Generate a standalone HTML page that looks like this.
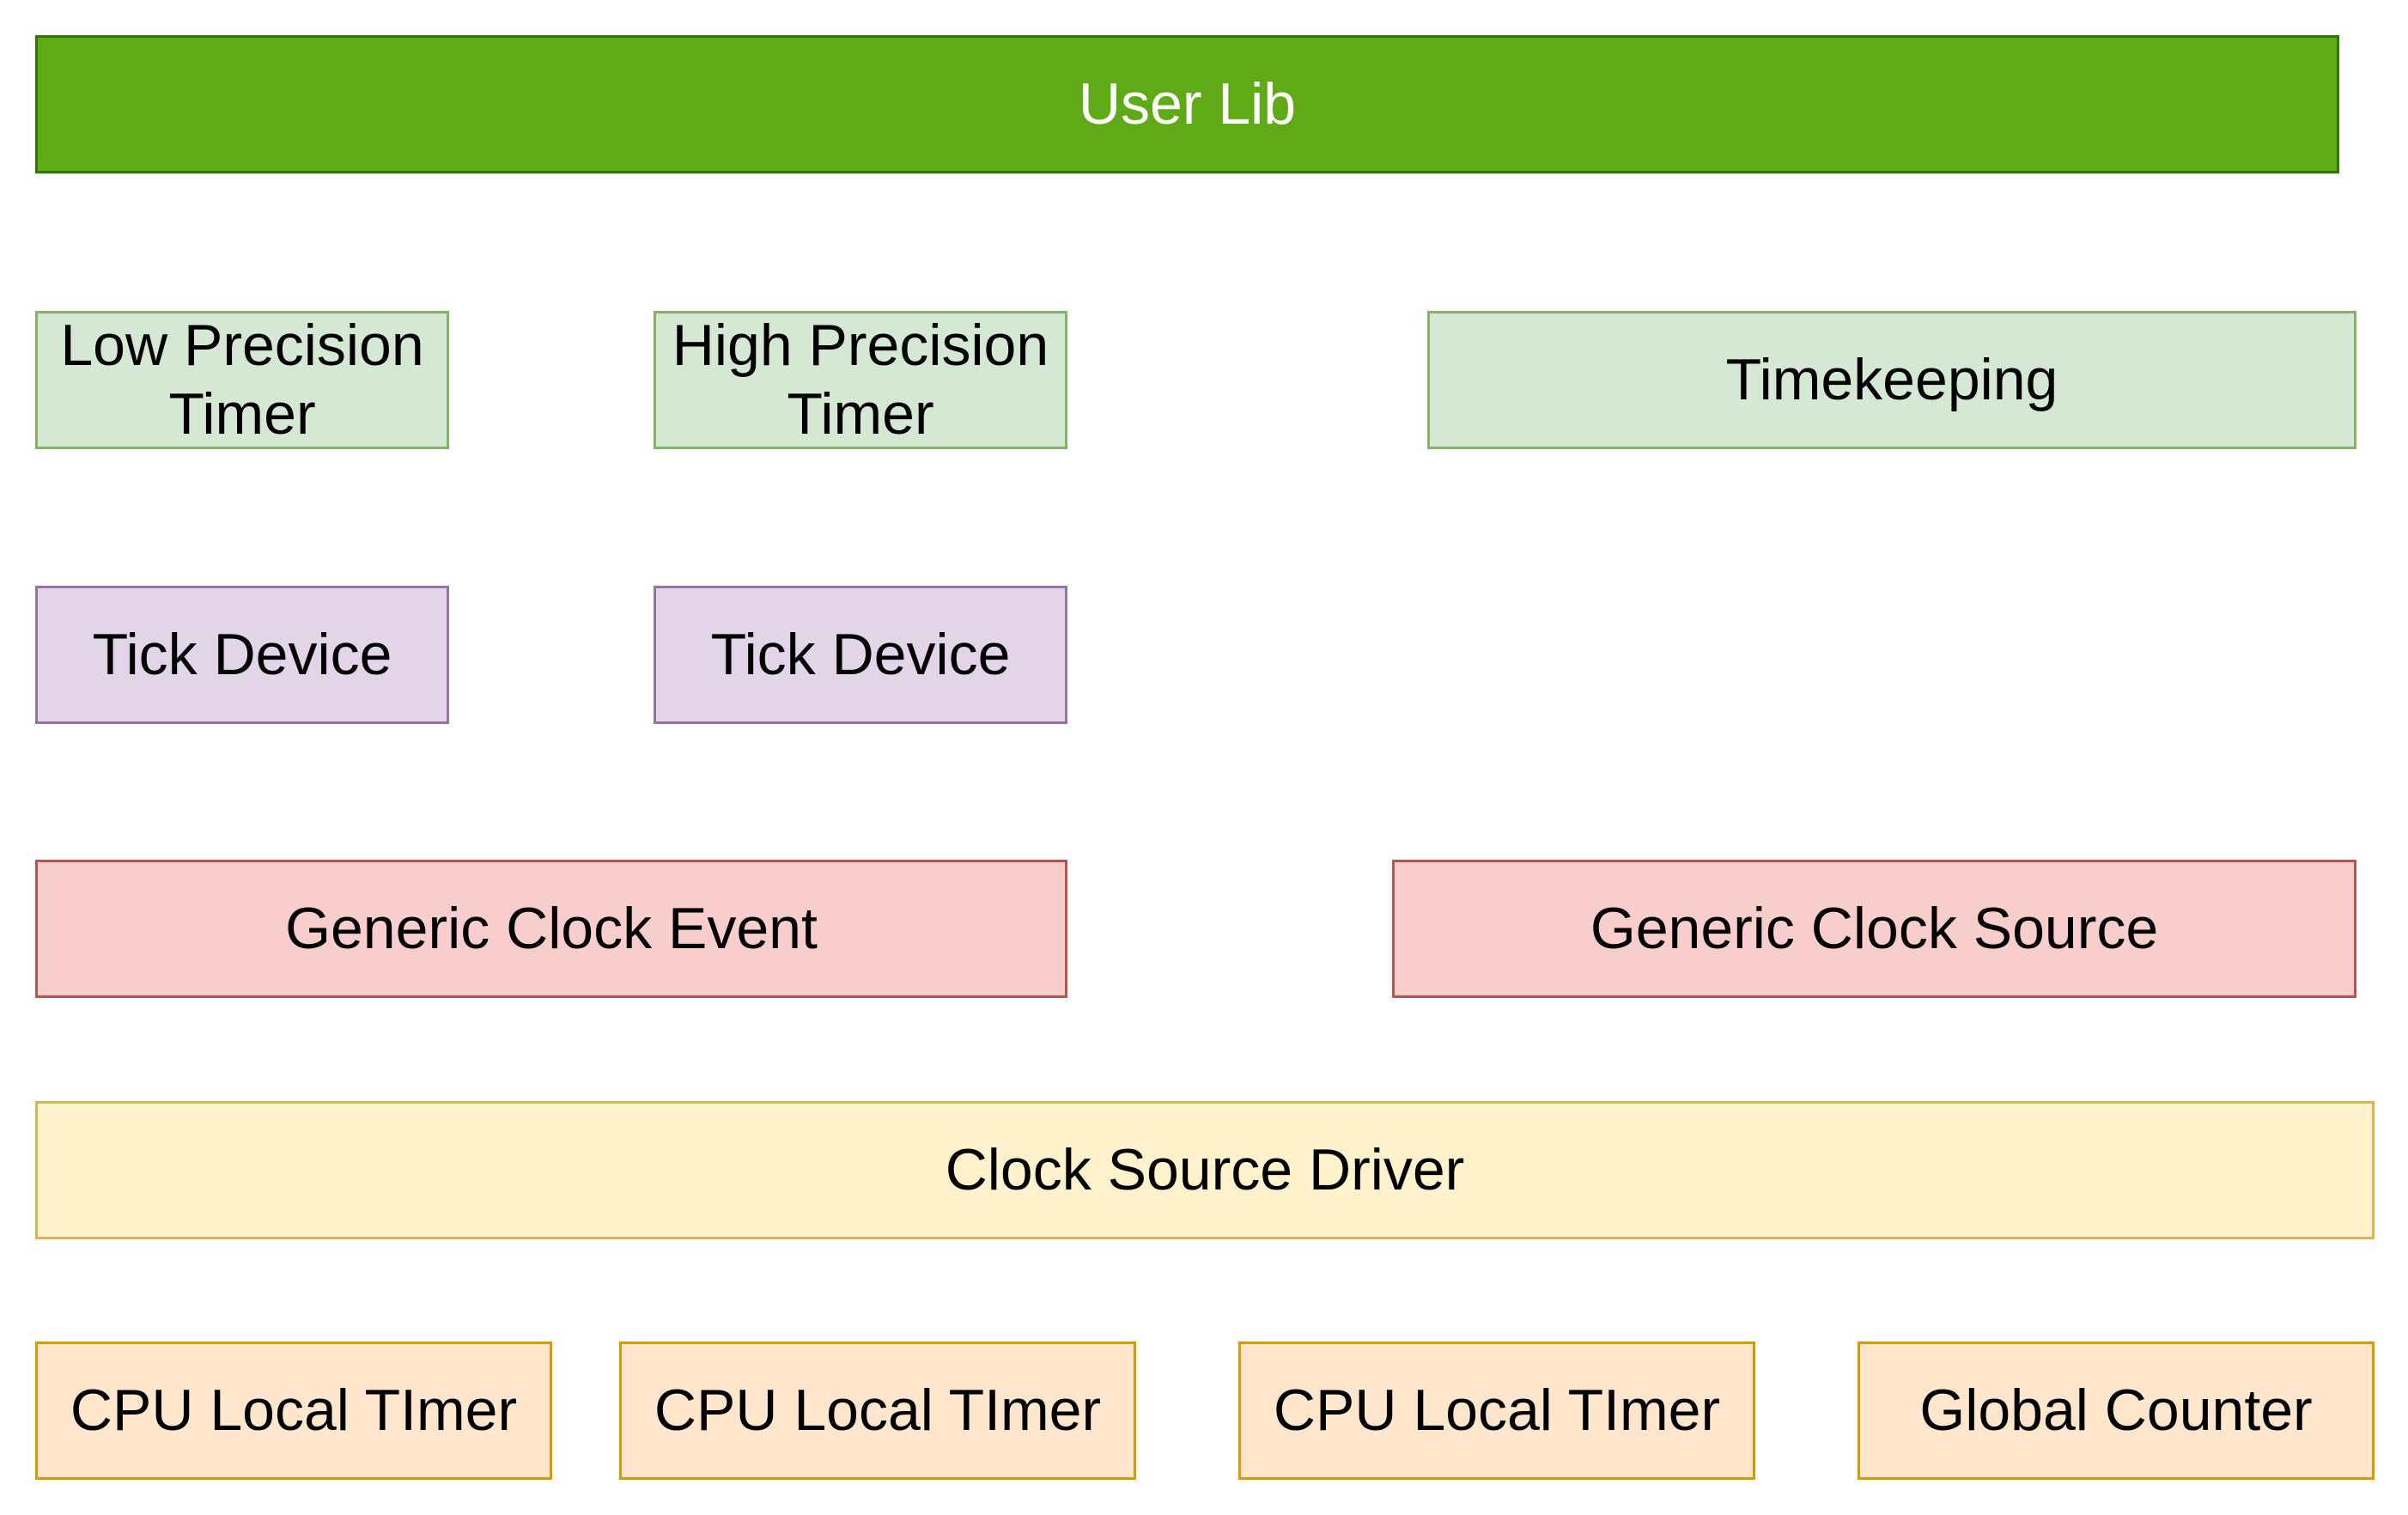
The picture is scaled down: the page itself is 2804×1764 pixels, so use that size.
<!DOCTYPE html>
<html><head><meta charset="utf-8"><style>
html,body{margin:0;padding:0;background:#fff;}
body{width:2804px;height:1764px;position:relative;overflow:hidden;font-family:"Liberation Sans",Arial,sans-serif;}
.b{position:absolute;box-sizing:border-box;border:3px solid;display:flex;align-items:center;justify-content:center;text-align:center;font-size:68px;line-height:1.17;color:#000;}
.g{background:#d5e8d4;border-color:#82b366;}
.p{background:#e1d5e7;border-color:#9673a6;}
.r{background:#f8cecc;border-color:#b85450;}
.y{background:#fff2cc;border-color:#d6b656;}
.o{background:#ffe6cc;border-color:#d79b00;}
</style></head><body>
<div class="b" style="left:41px;top:41px;width:2683px;height:161px;background:#60a917;border-color:#2d7600;color:#fff;">User Lib</div>
<div class="b g" style="left:41px;top:362px;width:482px;height:161px;">Low Precision<br>Timer</div>
<div class="b g" style="left:761px;top:362px;width:482px;height:161px;">High Precision<br>Timer</div>
<div class="b g" style="left:1662px;top:362px;width:1082px;height:161px;">Timekeeping</div>
<div class="b p" style="left:41px;top:682px;width:482px;height:161px;">Tick Device</div>
<div class="b p" style="left:761px;top:682px;width:482px;height:161px;">Tick Device</div>
<div class="b r" style="left:41px;top:1001px;width:1202px;height:161px;">Generic Clock Event</div>
<div class="b r" style="left:1621px;top:1001px;width:1123px;height:161px;">Generic Clock Source</div>
<div class="b y" style="left:41px;top:1282px;width:2724px;height:161px;">Clock Source Driver</div>
<div class="b o" style="left:41px;top:1562px;width:602px;height:161px;">CPU Local TImer</div>
<div class="b o" style="left:721px;top:1562px;width:602px;height:161px;">CPU Local TImer</div>
<div class="b o" style="left:1442px;top:1562px;width:602px;height:161px;">CPU Local TImer</div>
<div class="b o" style="left:2163px;top:1562px;width:602px;height:161px;">Global Counter</div>
</body></html>
